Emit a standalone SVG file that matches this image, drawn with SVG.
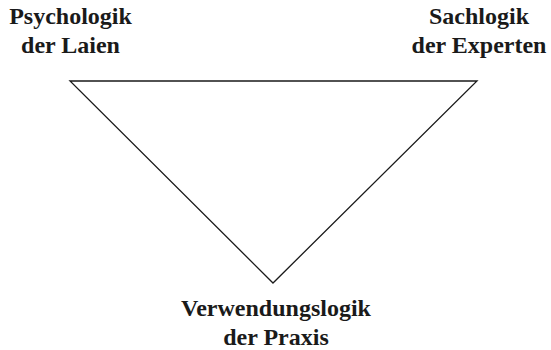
<svg xmlns="http://www.w3.org/2000/svg" width="551" height="350" viewBox="0 0 551 350">
<style>
text{font-family:"Liberation Serif","Times New Roman",serif;font-weight:bold;font-size:24px;text-anchor:middle;fill:#1a1a1a}
.tri{fill:none;stroke:#1a1a1a;stroke-width:1.3}
</style>
<rect width="551" height="350" fill="#fff"/>
<g id="connectors">
<polygon class="tri" points="70,81 477,81 273,283"/>
</g>
<g id="psychologik"><text x="70.5" y="24">Psychologik</text><text x="70.5" y="53">der Laien</text></g>
<g id="sachlogik"><text x="479" y="24">Sachlogik</text><text x="479" y="53">der Experten</text></g>
<g id="verwendungslogik"><text x="276" y="316">Verwendungslogik</text><text x="276" y="345">der Praxis</text></g>
</svg>
